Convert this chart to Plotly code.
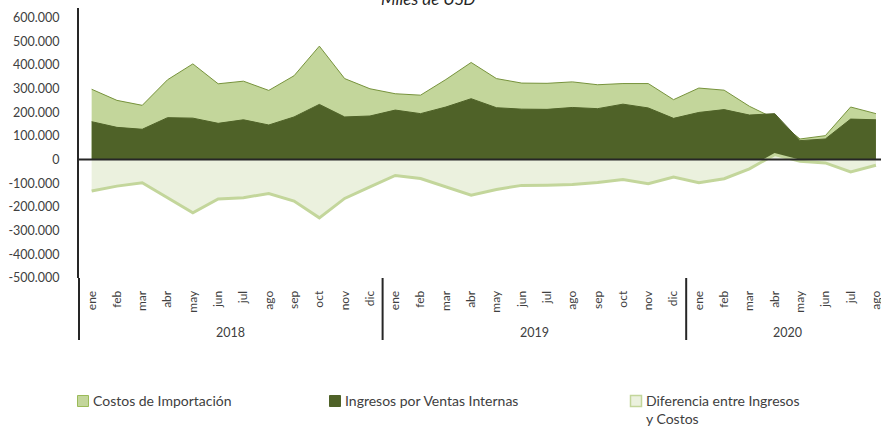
import plotly.graph_objects as go

meses = ["ene", "feb", "mar", "abr", "may", "jun", "jul", "ago", "sep", "oct", "nov", "dic"]
mes_labels = meses + meses + meses[:8]
anios = ["2018", "2019", "2020"]
anio_centros = [5.5, 17.5, 27.5]
separadores = [11.5, 23.5]

costos = [297, 250, 229, 337, 404, 320, 331, 292, 354, 479, 342, 299,
          278, 272, 338, 410, 342, 323, 322, 328, 316, 321, 321, 253,
          302, 293, 225, 173, 87, 101, 222, 194]
ingresos = [160, 136, 128, 177, 175, 153, 168, 146, 180, 233, 180, 184,
            209, 194, 222, 257, 219, 213, 212, 220, 215, 234, 218, 174,
            199, 211, 188, 194, 80, 87, 171, 168]
diferencia = [-133, -112, -98, -161, -225, -166, -161, -143, -175, -246, -164, -115,
              -67, -80, -114, -150, -126, -109, -108, -105, -97, -84, -102, -74,
              -98, -81, -39, 21, -7, -14, -52, -24]

ytick_vals = [600, 500, 400, 300, 200, 100, 0, -100, -200, -300, -400, -500]
ytick_text = ["600.000", "500.000", "400.000", "300.000", "200.000", "100.000", "0",
              "-100.000", "-200.000", "-300.000", "-400.000", "-500.000"]

serie_nombres = ["Costos de Importación", "Ingresos por Ventas Internas",
                 "Diferencia entre Ingresos<br>y Costos"]
serie_relleno = ["#c3d69b", "#4f6228", "#ebf1de"]
serie_linea = ["#77933c", "#4f6228", "#c3d69b"]
leyenda_borde = ["#9bbb59", "#4f6228", "#c3d69b"]

x = list(range(len(mes_labels)))
k = 1000
FONT = "Lato"
TXT = "#404040"

W, H = 881, 428
ML, MR, MT, MB = 79, 0, 8, 150
PW, PH = W - ML - MR, H - MT - MB


def px(p):
    return (p - ML) / PW


def py(p):
    return (H - MB - p) / PH


fig = go.Figure()
for vals, nombre, fc, lc, lw in zip([costos, ingresos, diferencia], serie_nombres,
                                    serie_relleno, serie_linea, [1, 1, 3]):
    fig.add_trace(go.Scatter(x=x, y=[v * k for v in vals], mode="lines", fill="tozeroy",
                             fillcolor=fc, line=dict(color=lc, width=lw),
                             showlegend=False, name=nombre.replace("<br>", " ")))

fig.update_layout(
    width=W, height=H, autosize=False,
    margin=dict(l=ML, r=MR, t=MT, b=MB, pad=0),
    paper_bgcolor="white", plot_bgcolor="white",
    font=dict(family=FONT, color=TXT),
    showlegend=False,
    xaxis=dict(range=[-0.5, 31.2], tickmode="array", tickvals=x, ticktext=mes_labels,
               tickangle=-90, showgrid=False, zeroline=False, showline=False,
               ticks="outside", ticklen=7, tickcolor="rgba(0,0,0,0)", automargin=False,
               ticklabeloverflow="allow",
               tickfont=dict(family=FONT, size=12, color=TXT)),
    yaxis=dict(range=[-500000, 640000], tickmode="array",
               tickvals=[v * k for v in ytick_vals], ticktext=ytick_text,
               showgrid=False, zeroline=False, showline=True, linecolor="#262626", linewidth=2,
               ticks="outside", ticklen=15, tickcolor="rgba(0,0,0,0)", automargin=False,
               tickfont=dict(family=FONT, size=12.5, color=TXT)),
)

# zero line on top of the areas
fig.add_shape(type="line", xref="paper", x0=0, x1=1, yref="y", y0=0, y1=0,
              line=dict(color="#262626", width=2), layer="above")
# category group dividers
fig.add_shape(type="line", xref="paper", x0=0, x1=0, yref="paper", y0=0, y1=py(340),
              line=dict(color="#262626", width=2), layer="above")
for s in separadores:
    fig.add_shape(type="line", xref="x", x0=s, x1=s, yref="paper", y0=0, y1=py(340),
                  line=dict(color="#262626", width=2), layer="above")
for a, c in zip(anios, anio_centros):
    fig.add_annotation(x=c, xref="x", y=py(332), yref="paper", text=a, showarrow=False,
                       yanchor="middle", font=dict(family=FONT, size=12.5, color=TXT))

# title
fig.add_annotation(x=px(428), xref="paper", y=py(-1.5), yref="paper", text="<i>Miles de USD</i>",
                   showarrow=False, yanchor="middle", font=dict(family=FONT, size=17, color="#262626"))

# legend (manual)
leg_x = [77, 329, 630]
for lx, nombre, fc, bc in zip(leg_x, serie_nombres, serie_relleno, leyenda_borde):
    fig.add_shape(type="rect", xref="paper", yref="paper",
                  x0=px(lx + 0.5), x1=px(lx + 11.5), y0=py(395.5), y1=py(406.5),
                  fillcolor=fc, line=dict(color=bc, width=1.5 if fc == "#ebf1de" else 1))
    fig.add_annotation(x=px(lx + 14), xref="paper", y=py(390), yref="paper", text=nombre,
                       showarrow=False, xanchor="left", yanchor="top", align="left",
                       font=dict(family=FONT, size=14, color=TXT))

fig.write_html("out.html", config={"displayModeBar": False},
               post_script="document.body.style.margin='0';")
